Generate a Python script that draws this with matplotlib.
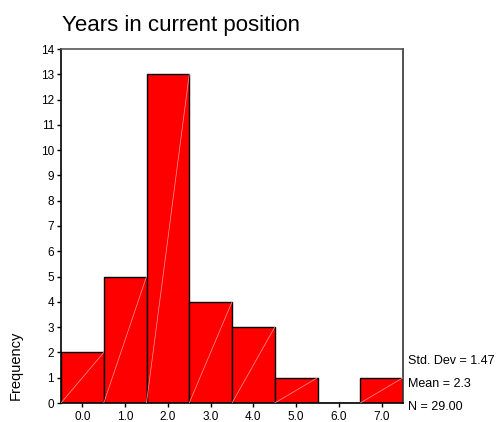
import matplotlib
matplotlib.use("Agg")
import matplotlib.pyplot as plt
import numpy as np

plt.rcParams['font.family'] = ['Liberation Sans', 'DejaVu Sans']

# dati dell'istogramma
centri = [0.0, 1.0, 2.0, 3.0, 4.0, 5.0, 6.0, 7.0]
frequenze = [2, 5, 13, 4, 3, 1, 0, 1]
etichette_x = ['0.0', '1.0', '2.0', '3.0', '4.0', '5.0', '6.0', '7.0']
statistiche = ['Std. Dev = 1.47', 'Mean = 2.3', 'N = 29.00']

fig = plt.figure(figsize=(4.96, 4.22), dpi=100)
ax = fig.add_axes([61/496, 1 - 403/422, 342/496, 354/422])

ax.bar(centri, frequenze, width=1.0, color='#ff0000', edgecolor='black', linewidth=1.0, zorder=2)

# linee diagonali chiare dentro le barre
for c, f in zip(centri, frequenze):
    if f > 0:
        ax.plot([c - 0.5, c + 0.5], [0, f], color='#ff9a9a', linewidth=0.5, zorder=3)

ax.set_xlim(-0.5, 7.5)
ax.set_ylim(0, 14)
ax.set_xticks(centri)
ax.set_xticklabels(etichette_x)
ax.set_yticks(np.arange(0, 15, 1))
ax.tick_params(axis='both', labelsize=8.5, length=3, width=1, color='black', pad=3)
ax.tick_params(axis='y', pad=2)

for lato in ['left', 'bottom']:
    ax.spines[lato].set_color('black')
    ax.spines[lato].set_linewidth(1.2)
ax.spines['top'].set_color('#555555')
ax.spines['top'].set_linewidth(1.2)
ax.spines['right'].set_color('#333333')
ax.spines['right'].set_linewidth(1.2)

fig.text(62/496, 1 - 31/422, 'Years in current position', ha='left', va='baseline', fontsize=16)

fig.text(16/496, 1 - 365/422, 'Frequency', rotation=90, ha='center', va='center', fontsize=10.5)

for i, s in enumerate(statistiche):
    fig.text(408/496, 1 - (361 + 23 * i)/422, s, ha='left', va='center', fontsize=9)

fig.savefig('out.png', dpi=100)
